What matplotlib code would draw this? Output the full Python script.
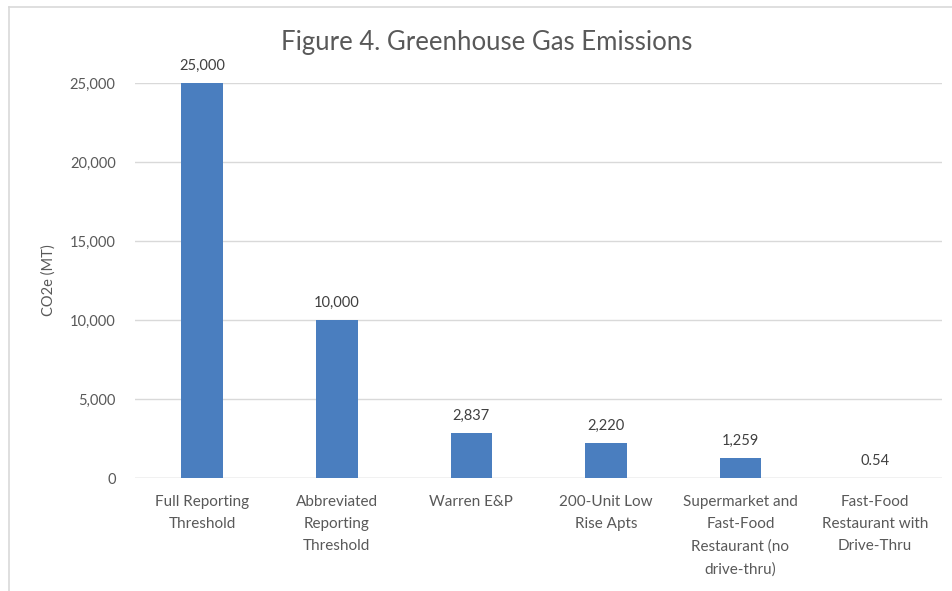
import matplotlib.pyplot as plt
from matplotlib.lines import Line2D

categories = ["Full Reporting\nThreshold", "Abbreviated\nReporting\nThreshold",
              "Warren E&P", "200-Unit Low\nRise Apts",
              "Supermarket and\nFast-Food\nRestaurant (no\ndrive-thru)",
              "Fast-Food\nRestaurant with\nDrive-Thru"]
values = [25000, 10000, 2837, 2220, 1259, 0.54]
labels = ["25,000", "10,000", "2,837", "2,220", "1,259", "0.54"]
yticks = [0, 5000, 10000, 15000, 20000, 25000]

plt.rcParams['font.family'] = ['Lato', 'DejaVu Sans']

fig = plt.figure(figsize=(9.53, 5.91), dpi=100)
ax = fig.add_axes([0.1417, 0.191, 0.847, 0.6687])

x = range(len(values))
ax.bar(x, values, width=0.31, color="#4a7ebf", zorder=3)
for i, v in enumerate(values):
    ax.text(i, v + 650, labels[i], ha="center", va="bottom",
            fontsize=10.5, color="#404040")

ax.set_xlim(-0.5, len(values) - 0.5)
ax.set_ylim(0, 25000)
ax.set_yticks(yticks)
ax.set_yticklabels([f"{t:,}" for t in yticks])
ax.set_xticks(list(x))
ax.set_xticklabels(categories, linespacing=1.75)
ax.tick_params(axis="both", length=0, colors="#595959", labelsize=10.5)
ax.tick_params(axis="x", pad=12, labelsize=11)
ax.tick_params(axis="y", pad=14)
ax.grid(axis="y", color="#d9d9d9", linewidth=1, zorder=0)
for s in ax.spines.values():
    s.set_visible(False)
ax.axhline(0, color="#d9d9d9", linewidth=1, zorder=2)

ax.set_ylabel("CO2e (MT)", fontsize=10.5, color="#595959", labelpad=10)
fig.text(0.511, 0.928, "Figure 4. Greenhouse Gas Emissions", ha="center",
         va="center", fontsize=18.5, color="#595959")

# outer border (top and left only)
fig.add_artist(Line2D([0.0094, 1.0], [0.988, 0.988], color="#d9d9d9", linewidth=1.2))
fig.add_artist(Line2D([0.0094, 0.0094], [0.0, 0.988], color="#d9d9d9", linewidth=1.2))

fig.savefig("out.png", dpi=100)
